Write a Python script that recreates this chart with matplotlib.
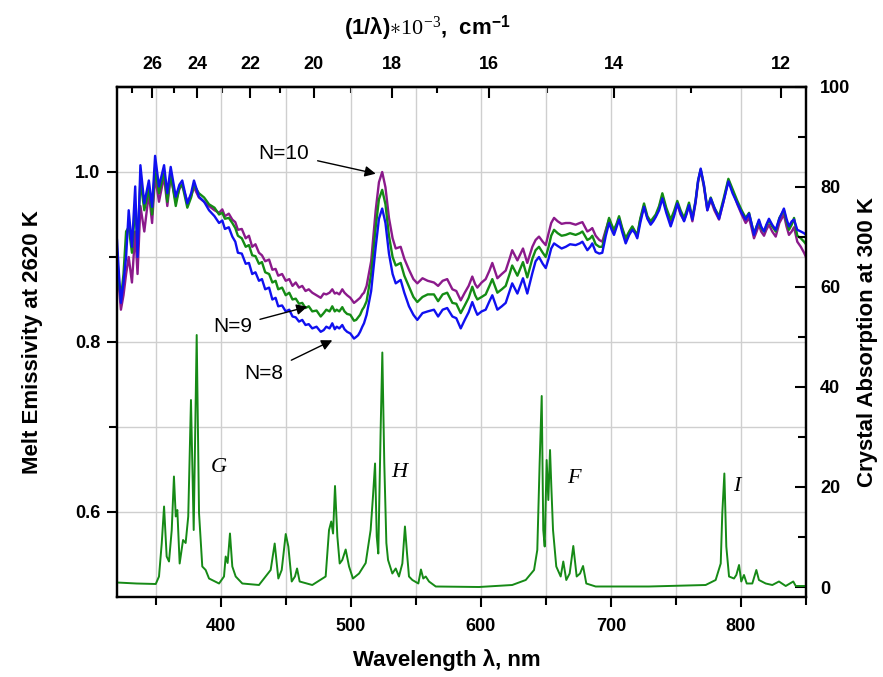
import numpy as np
import matplotlib
matplotlib.use("Agg")
import matplotlib.pyplot as plt
from matplotlib.ticker import FixedLocator

plt.rcParams['font.family'] = ['Liberation Sans', 'DejaVu Sans']
plt.rcParams['mathtext.fontset'] = 'custom'
plt.rcParams['mathtext.rm'] = 'Liberation Serif'
plt.rcParams['mathtext.it'] = 'Liberation Serif:italic'
plt.rcParams['mathtext.bf'] = 'Liberation Sans:bold'

# ---------------- data ----------------
wavelength = [320.0, 321.5, 323.0, 325.0, 327.0, 329.0, 331.5, 334.0, 335.8, 338.0,
              341.0, 344.5, 347.0, 349.3, 352.3, 356.2, 358.7, 361.3, 365.2, 368.0,
              370.2, 374.1, 377.0, 379.2, 383.0, 387.0, 390.8,
              395.0, 398.5, 401.0, 403.0, 406.0, 408.7, 411.0, 413.0, 416.0, 419.0,
              421.5, 424.0, 426.5, 429.2, 431.5, 434.0, 437.0, 439.5, 442.0, 444.0,
              447.0, 449.8, 452.5, 455.0, 457.5, 460.0, 462.5, 465.0, 467.5, 470.2,
              473.5, 476.7, 479.0, 481.0, 483.5, 485.6, 487.5, 489.0, 491.0, 493.3,
              495.0, 497.0, 499.5, 502.3, 504.0, 505.5, 507.0, 508.7, 510.0, 512.0,
              515.5, 519.0, 521.5, 524.0, 526.5, 529.2, 532.0,
              534.4, 538.2, 541.0, 544.6, 548.0, 551.0, 555.0, 559.0, 563.8, 567.0,
              570.5, 574.0, 578.0, 581.0, 584.4, 587.5, 590.5, 593.3, 595.5, 597.2,
              600.5, 603.6, 606.5, 608.7, 612.6, 616.0, 619.0, 622.0, 624.0, 628.0,
              632.3, 635.6, 639.5, 642.0, 644.6, 647.5, 649.8, 652.0, 654.0, 656.2,
              659.0, 662.0, 665.2, 668.5, 672.8, 676.0, 678.0, 681.8, 684.0, 685.6,
              688.2, 691.0, 693.3, 696.0, 698.5, 700.5, 702.3, 704.5, 706.2, 708.5,
              711.3, 714.0, 716.4, 718.5, 720.2, 722.5, 725.4, 728.0, 730.5, 732.5,
              734.4, 737.0, 739.5, 742.5, 745.9, 748.5, 751.0, 753.5, 756.2, 758.0,
              760.0, 762.6, 765.0, 767.0, 769.0, 771.5, 774.1, 776.7, 779.5, 783.1,
              786.5, 790.3, 793.5, 797.2, 800.5, 803.6, 806.2, 808.0, 810.0, 812.0,
              813.8, 815.5, 817.7, 819.5, 821.5, 824.0, 826.7, 829.5, 833.0, 835.0,
              836.9, 839.0, 840.8, 843.3, 846.0, 848.5, 850.0]

# N=10 (purple)
emiss_n10 = [0.900, 0.865, 0.838, 0.855, 0.880, 0.900, 0.870, 0.930, 0.880, 0.960,
             0.930, 0.975, 0.940, 0.995, 0.965, 0.995, 0.960, 0.995, 0.965, 0.980,
             0.985, 0.965, 0.972, 0.982, 0.970, 0.965, 0.960,
             0.955, 0.952, 0.956, 0.948, 0.951, 0.944, 0.941, 0.932, 0.933, 0.922,
             0.925, 0.912, 0.915, 0.905, 0.902, 0.895, 0.897, 0.885, 0.886, 0.878,
             0.880, 0.872, 0.874, 0.866, 0.870, 0.864, 0.866, 0.860, 0.862, 0.858,
             0.855, 0.852, 0.857, 0.856, 0.858, 0.862, 0.857, 0.858, 0.856, 0.862,
             0.858, 0.855, 0.852, 0.846, 0.848, 0.850, 0.852, 0.856, 0.858, 0.866,
             0.895, 0.955, 0.988, 1.000, 0.982, 0.946, 0.922,
             0.910, 0.912, 0.898, 0.885, 0.874, 0.869, 0.875, 0.872, 0.870, 0.866,
             0.872, 0.874, 0.862, 0.860, 0.849, 0.858, 0.866, 0.877, 0.868, 0.864,
             0.870, 0.874, 0.884, 0.893, 0.875, 0.880, 0.884, 0.898, 0.908, 0.896,
             0.910, 0.893, 0.912, 0.920, 0.924, 0.918, 0.914, 0.928, 0.940, 0.946,
             0.942, 0.939, 0.940, 0.940, 0.938, 0.940, 0.941, 0.930, 0.932, 0.934,
             0.925, 0.920, 0.918, 0.932, 0.944, 0.936, 0.930, 0.938, 0.946, 0.933,
             0.920, 0.929, 0.935, 0.930, 0.924, 0.944, 0.960, 0.946, 0.940, 0.944,
             0.948, 0.958, 0.972, 0.955, 0.940, 0.950, 0.962, 0.950, 0.943, 0.951,
             0.960, 0.942, 0.963, 0.988, 1.002, 0.982, 0.955, 0.967, 0.955, 0.944,
             0.965, 0.990, 0.978, 0.962, 0.950, 0.940, 0.946, 0.935, 0.922, 0.930,
             0.938, 0.930, 0.925, 0.932, 0.938, 0.930, 0.924, 0.940, 0.950, 0.936,
             0.926, 0.930, 0.935, 0.918, 0.912, 0.905, 0.900]

# N=9 (green)
emiss_n9 = [0.905, 0.870, 0.850, 0.880, 0.930, 0.935, 0.905, 0.960, 0.915, 0.990,
            0.955, 0.980, 0.950, 1.005, 0.975, 1.000, 0.965, 0.998, 0.960, 0.982,
            0.985, 0.958, 0.970, 0.985, 0.975, 0.970, 0.962,
            0.958, 0.950, 0.952, 0.945, 0.946, 0.940, 0.934, 0.925, 0.922, 0.912,
            0.914, 0.902, 0.901, 0.892, 0.894, 0.882, 0.880, 0.870, 0.872, 0.862,
            0.864, 0.855, 0.858, 0.850, 0.851, 0.845, 0.846, 0.840, 0.842, 0.836,
            0.837, 0.830, 0.834, 0.838, 0.836, 0.842, 0.836, 0.838, 0.836, 0.841,
            0.836, 0.833, 0.832, 0.825, 0.826, 0.829, 0.832, 0.838, 0.841, 0.848,
            0.880, 0.935, 0.968, 0.979, 0.962, 0.925, 0.900,
            0.890, 0.893, 0.878, 0.865, 0.853, 0.847, 0.853, 0.856, 0.856, 0.848,
            0.856, 0.858, 0.846, 0.845, 0.834, 0.843, 0.852, 0.865, 0.855, 0.850,
            0.853, 0.856, 0.866, 0.874, 0.858, 0.862, 0.866, 0.880, 0.890, 0.878,
            0.894, 0.876, 0.898, 0.908, 0.912, 0.905, 0.900, 0.912, 0.925, 0.932,
            0.928, 0.925, 0.926, 0.928, 0.926, 0.928, 0.930, 0.920, 0.922, 0.925,
            0.915, 0.912, 0.912, 0.930, 0.946, 0.938, 0.932, 0.940, 0.948, 0.935,
            0.922, 0.930, 0.936, 0.930, 0.926, 0.945, 0.963, 0.948, 0.942, 0.946,
            0.950, 0.960, 0.975, 0.958, 0.944, 0.954, 0.966, 0.955, 0.946, 0.954,
            0.964, 0.946, 0.966, 0.990, 1.003, 0.984, 0.958, 0.970, 0.958, 0.948,
            0.968, 0.992, 0.980, 0.966, 0.955, 0.946, 0.952, 0.940, 0.928, 0.936,
            0.942, 0.934, 0.930, 0.937, 0.943, 0.936, 0.930, 0.946, 0.955, 0.942,
            0.932, 0.938, 0.946, 0.925, 0.922, 0.918, 0.915]

# N=8 (blue)
emiss_n8 = [0.920, 0.880, 0.846, 0.870, 0.900, 0.955, 0.912, 0.983, 0.900, 1.008,
            0.963, 0.990, 0.959, 1.019, 0.983, 1.008, 0.975, 1.006, 0.971, 0.985,
            0.990, 0.963, 0.975, 0.990, 0.971, 0.965, 0.955,
            0.948, 0.940, 0.943, 0.933, 0.935, 0.924, 0.918, 0.905, 0.904, 0.892,
            0.893, 0.880, 0.882, 0.872, 0.874, 0.862, 0.864, 0.850, 0.852, 0.842,
            0.843, 0.836, 0.838, 0.830, 0.829, 0.824, 0.826, 0.820, 0.821, 0.816,
            0.818, 0.812, 0.814, 0.818, 0.816, 0.822, 0.815, 0.818, 0.816, 0.820,
            0.815, 0.812, 0.810, 0.804, 0.806, 0.808, 0.812, 0.818, 0.822, 0.832,
            0.860, 0.912, 0.945, 0.957, 0.940, 0.904, 0.880,
            0.869, 0.873, 0.858, 0.842, 0.832, 0.826, 0.834, 0.836, 0.838, 0.830,
            0.838, 0.840, 0.830, 0.828, 0.816, 0.826, 0.835, 0.847, 0.838, 0.832,
            0.836, 0.838, 0.848, 0.855, 0.838, 0.842, 0.846, 0.860, 0.869, 0.857,
            0.875, 0.857, 0.881, 0.895, 0.900, 0.892, 0.887, 0.898, 0.910, 0.916,
            0.913, 0.910, 0.912, 0.915, 0.914, 0.916, 0.918, 0.908, 0.912, 0.916,
            0.906, 0.904, 0.905, 0.925, 0.940, 0.932, 0.926, 0.936, 0.944, 0.930,
            0.916, 0.926, 0.932, 0.928, 0.922, 0.940, 0.959, 0.945, 0.938, 0.942,
            0.947, 0.955, 0.969, 0.952, 0.936, 0.948, 0.963, 0.952, 0.942, 0.950,
            0.961, 0.944, 0.965, 0.990, 1.004, 0.985, 0.955, 0.969, 0.958, 0.945,
            0.965, 0.989, 0.975, 0.963, 0.952, 0.944, 0.951, 0.940, 0.926, 0.936,
            0.944, 0.936, 0.930, 0.938, 0.945, 0.938, 0.932, 0.945, 0.957, 0.945,
            0.936, 0.942, 0.944, 0.932, 0.930, 0.928, 0.926]

abs_wavelength = [320.0, 335.0, 349.8, 352.3, 354.4, 356.2, 358.2, 360.0, 362.1, 363.8,
                  365.2, 366.4, 368.2, 370.8, 372.8, 374.8, 376.9, 379.0, 381.3, 383.1,
                  385.6, 388.2, 390.8, 398.5, 402.3, 403.6, 405.1, 406.9, 408.7, 411.3,
                  416.4, 429.2, 438.2, 441.3, 444.1, 446.7, 449.8, 451.8, 454.4, 456.9,
                  458.5, 460.5, 470.2, 480.5, 483.1, 484.8, 486.2, 487.7, 489.5, 491.3,
                  493.3, 495.9, 498.5, 501.5, 506.2, 511.3, 515.1, 516.9, 518.5, 519.8,
                  521.0, 522.8, 524.1, 525.6, 527.2, 528.5, 531.8, 534.4, 536.9, 539.5,
                  541.5, 543.1, 544.6, 547.2, 551.8, 553.8, 555.6, 557.5, 560.0, 565.2,
                  598.5, 624.0, 634.4, 640.8, 643.3, 645.1, 646.7, 647.9, 649.0, 650.5,
                  651.8, 653.1, 654.1, 655.4, 657.9, 661.3, 663.3, 665.6, 668.2, 671.0,
                  673.6, 676.2, 678.5, 681.0, 688.2, 729.2, 772.8, 780.5, 784.4, 785.6,
                  787.2, 788.7, 790.8, 794.6, 796.4, 798.5, 800.2, 802.3, 804.4, 808.7,
                  811.8, 813.8, 819.0, 824.1, 829.2, 834.4, 840.2, 842.1, 850.0]
absorption = [0.9, 0.7, 0.6, 2.1, 8.7, 16.1, 6.1, 5.1, 11.4, 22.1,
              14.1, 15.4, 4.7, 9.4, 8.8, 14.1, 37.4, 11.4, 50.4, 14.8,
              4.1, 3.4, 1.7, 0.7, 2.1, 6.1, 4.8, 10.7, 4.1, 2.1,
              0.7, 0.4, 3.4, 8.7, 1.7, 3.4, 10.6, 8.1, 1.1, 2.1,
              3.7, 1.1, 0.4, 2.1, 11.4, 13.1, 10.7, 20.2, 10.1, 4.7,
              5.4, 7.5, 4.1, 1.7, 2.7, 4.8, 11.4, 18.1, 24.7, 10.1,
              6.7, 31.4, 46.9, 24.8, 8.8, 5.4, 2.7, 3.7, 2.1, 4.7,
              12.1, 6.7, 2.1, 1.4, 0.7, 3.5, 1.7, 2.1, 1.1, 0.1,
              0.0, 0.4, 1.4, 3.4, 7.4, 24.7, 38.2, 11.4, 8.1, 25.4,
              17.4, 27.4, 20.1, 11.4, 4.1, 2.1, 5.1, 1.4, 2.7, 8.2,
              2.1, 2.7, 4.2, 0.7, 0.1, 0.1, 0.4, 1.4, 4.7, 14.7,
              22.7, 8.1, 2.1, 1.7, 2.4, 4.4, 1.1, 2.4, 0.7, 0.7,
              3.4, 1.4, 0.7, 0.4, 1.1, 0.2, 1.1, 0.2, 0.2]

x_major = [400, 500, 600, 700, 800]
x_minor = [350, 450, 550, 650, 750, 850]
left_major = [0.6, 0.8, 1.0]
left_minor = [0.7, 0.9]
right_major = [0, 20, 40, 60, 80, 100]
right_minor = [10, 30, 50, 70, 90]
top_major = [26, 24, 22, 20, 18, 16, 14, 12]
top_minor = [27, 25, 23, 21, 19, 17, 15, 13]

# calibration of the top (1/lambda) axis as drawn in the original
TOP_SCALE = 1.078
TOP_SHIFT = -67.6

def nm_to_k(nm):
    nm = np.asarray(nm, dtype=float)
    with np.errstate(divide='ignore', invalid='ignore'):
        return 1e4 * TOP_SCALE / (nm - TOP_SHIFT)

def k_to_nm(k):
    k = np.asarray(k, dtype=float)
    with np.errstate(divide='ignore', invalid='ignore'):
        return TOP_SHIFT + TOP_SCALE * 1e4 / k

# ---------------- figure ----------------
W, H = 883, 677
fig = plt.figure(figsize=(W / 100, H / 100), dpi=100)
L, R, T, B = 117, 806, 87, 597
ax = fig.add_axes([L / W, 1 - B / H, (R - L) / W, (B - T) / H])
ax2 = ax.twinx()

c_purple = '#8b1a8b'
c_green = '#148c14'
c_blue = '#1010f0'

ax.plot(wavelength, emiss_n10, color=c_purple, lw=1.7, zorder=3)
ax.plot(wavelength, emiss_n9, color=c_green, lw=1.7, zorder=4)
ax.plot(wavelength, emiss_n8, color=c_blue, lw=1.7, zorder=5)
ax2.plot(abs_wavelength, absorption, color='#168a16', lw=1.4)

ax.set_xlim(320, 850)
ax.set_ylim(0.5, 1.1)
ax2.set_ylim(-2, 100)

ax.xaxis.set_major_locator(FixedLocator(x_major))
ax.xaxis.set_minor_locator(FixedLocator(x_minor))
ax.yaxis.set_major_locator(FixedLocator(left_major))
ax.yaxis.set_minor_locator(FixedLocator(left_minor))
ax.set_yticklabels(['0.6', '0.8', '1.0'])
ax2.yaxis.set_major_locator(FixedLocator(right_major))
ax2.yaxis.set_minor_locator(FixedLocator(right_minor))

ax.grid(which='both', color='#cfcfcf', lw=1.0)

for a in (ax, ax2):
    for s in a.spines.values():
        s.set_linewidth(1.6)

ax.tick_params(axis='x', which='major', direction='out', length=7, width=1.5,
               labelsize=13, pad=8)
ax.tick_params(axis='x', which='minor', direction='out', length=6, width=1.5)
ax.tick_params(axis='y', which='major', direction='out', length=7, width=1.5,
               labelsize=13, pad=5)
ax.tick_params(axis='y', which='minor', direction='out', length=6, width=1.5)
ax2.tick_params(axis='y', which='major', direction='in', length=8, width=1.5,
                labelsize=13, pad=10)
ax2.tick_params(axis='y', which='minor', direction='in', length=6, width=1.5)

sec = ax.secondary_xaxis('top', functions=(nm_to_k, k_to_nm))
sec.xaxis.set_major_locator(FixedLocator(top_major))
sec.xaxis.set_minor_locator(FixedLocator(top_minor))
sec.set_xticklabels([str(v) for v in top_major])
sec.tick_params(axis='x', which='major', direction='in', length=8, width=1.5,
                labelsize=13, pad=10)
sec.tick_params(axis='x', which='minor', direction='in', length=4, width=1.5)
sec.spines['top'].set_linewidth(1.6)

for lbl in (ax.get_xticklabels() + ax.get_yticklabels() +
            ax2.get_yticklabels() + sec.get_xticklabels()):
    lbl.set_fontweight('bold')

# axis titles
fig.text(447 / W, 1 - 660 / H, 'Wavelength λ, nm', ha='center', va='center',
         fontsize=16, fontweight='bold')
fig.text(33 / W, 1 - 342 / H, 'Melt Emissivity at 2620 K', ha='center', va='center',
         rotation=90, fontsize=16, fontweight='bold')
fig.text(868 / W, 1 - 342 / H, 'Crystal Absorption at 300 K', ha='center', va='center',
         rotation=90, fontsize=16, fontweight='bold')
fig.text(427 / W, 1 - 28 / H, r'(1/λ)$\ast\mathrm{10}^{\mathrm{-3}}$,  cm$^{\mathbf{-1}}$',
         ha='center', va='center', fontsize=16, fontweight='bold')

# annotations
arrow = dict(arrowstyle='-|>', color='black', lw=1.0, mutation_scale=16,
             shrinkA=4, shrinkB=0)
ax.annotate('N=10', xy=(519, 0.998), xytext=(448.5, 1.022), fontsize=15,
            ha='center', va='center', arrowprops=arrow, zorder=6)
ax.annotate('N=9', xy=(466.4, 0.8415), xytext=(408.7, 0.818), fontsize=15,
            ha='center', va='center', arrowprops=arrow, zorder=6)
ax.annotate('N=8', xy=(485.6, 0.802), xytext=(433.1, 0.763), fontsize=15,
            ha='center', va='center', arrowprops=arrow, zorder=6)

for letter, xw, ya in [('G', 398.5, 23.8), ('H', 537.0, 22.9),
                       ('F', 671.5, 21.7), ('I', 797.0, 20.0)]:
    ax2.text(xw, ya, letter, fontsize=16, fontstyle='italic', ha='center',
             va='center', family=['Liberation Serif', 'DejaVu Serif'])

fig.savefig('out.png', dpi=100)
